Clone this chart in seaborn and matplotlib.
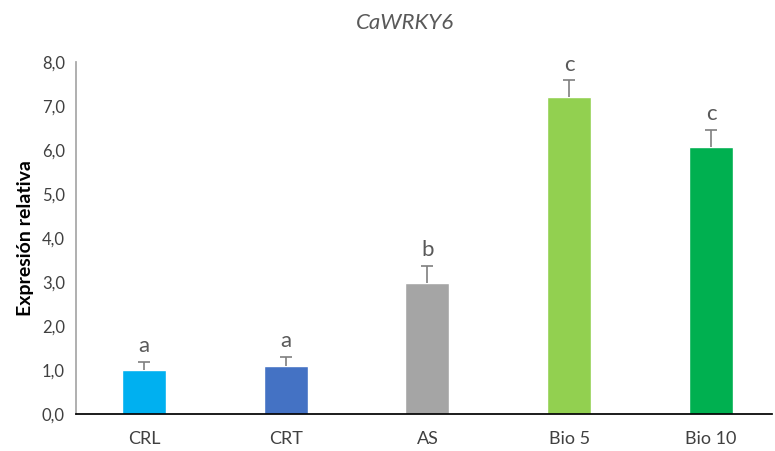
"""Relative expression of CaWRKY6 per treatment, bar chart with error bars and letters."""

import pandas as pd
import seaborn as sns
import matplotlib.pyplot as plt

treatments = ["CRL", "CRT", "AS", "Bio 5", "Bio 10"]
expression = [1.0, 1.08, 2.98, 7.19, 6.07]
errors = [0.18, 0.22, 0.38, 0.39, 0.38]
letters = ["a", "a", "b", "c", "c"]
colors = ["#00B0F0", "#4472C4", "#A5A5A5", "#92D050", "#00B050"]


def make_figure(df):
    sns.set_theme(style="white")
    plt.rcParams['font.family'] = ['Lato', 'DejaVu Sans']

    fig = plt.figure(figsize=(7.75, 4.51), dpi=100)
    ax = fig.add_axes([0.098, 0.082, 0.898, 0.781])

    sns.barplot(x="treatment", y="expr", data=df, hue="treatment",
                palette=colors, saturation=1, legend=False, width=0.31, ax=ax)

    # only the upper half of the error bar, like the Excel original
    top = df["expr"] + df["err"]
    ax.vlines(range(len(df)), df["expr"], top, color="#7F7F7F", lw=1.2)
    ax.plot(range(len(df)), top, ls="none", marker="_", ms=9,
            mew=1.2, color="#7F7F7F")

    for i, row in df.iterrows():
        ax.text(i, row["expr"] + row["err"] + 0.13, row["letter"],
                ha="center", va="bottom", fontsize=16, color="#595959")

    ax.set_ylim(0, 8)
    ax.set_xlim(-0.48, 4.43)
    ax.set_yticks([i for i in range(9)])
    ax.set_yticklabels([f"{i},0" for i in range(9)], fontsize=12, color="#404040")
    ax.tick_params(axis="x", labelsize=13, colors="#404040", pad=12, length=0)
    ax.tick_params(axis="y", length=0, pad=8)
    ax.set_xlabel("")
    ax.set_ylabel("Expresión relativa", fontsize=14, fontweight="bold",
                  color="black", labelpad=6)

    sns.despine(ax=ax, top=True, right=True)
    ax.spines["left"].set_color("#A6A6A6")
    ax.spines["bottom"].set_color("black")

    fig.text(0.523, 0.95, "CaWRKY6", ha="center", va="center",
             fontsize=16, style="italic", color="#595959")

    plt.savefig("out.png", dpi=100)


def main():
    df = pd.DataFrame({"treatment": treatments, "expr": expression,
                       "err": errors, "letter": letters})
    make_figure(df)


if __name__ == "__main__":
    main()
